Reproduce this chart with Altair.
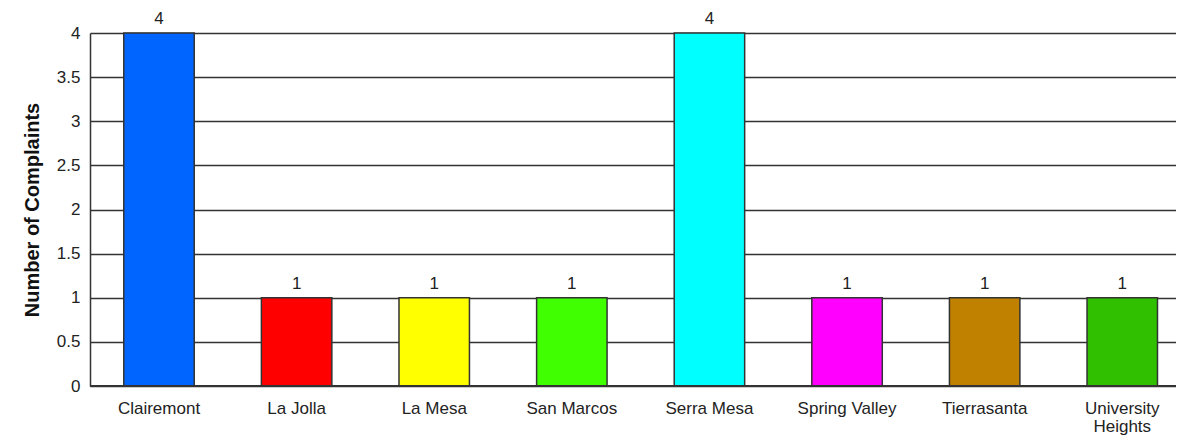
import altair as alt
import pandas as pd

categories = ["Clairemont", "La Jolla", "La Mesa", "San Marcos", "Serra Mesa",
              "Spring Valley", "Tierrasanta", "University Heights"]
complaints = [4, 1, 1, 1, 4, 1, 1, 1]
colors = ["#0064FF", "#FF0000", "#FFFF00", "#40FF00", "#00FFFF",
          "#FF00FF", "#C08000", "#30C000"]
y_ticks = [0, 0.5, 1, 1.5, 2, 2.5, 3, 3.5, 4]

df = pd.DataFrame({"area": categories, "count": complaints})

W = 1086
H = 353

x_enc = alt.X("area:N", sort=categories, title=None,
              scale=alt.Scale(paddingInner=0.488, paddingOuter=0.19, align=0.646),
              axis=alt.Axis(labelAngle=0, ticks=False, domain=False, labelPadding=14,
                            labelFont="Liberation Sans", labelFontSize=17,
                            labelColor="#222", labelLimit=200, labelLineHeight=18,
                            labelExpr="datum.label == 'University Heights' ? ['University', 'Heights'] : datum.label"))
y_enc = alt.Y("count:Q", title="Number of Complaints",
              scale=alt.Scale(domain=[0, 4], nice=False),
              axis=alt.Axis(values=y_ticks, grid=True, gridColor="#333", gridWidth=1.5,
                            gridOpacity=1, domain=True, domainColor="#333", domainWidth=1.5,
                            ticks=False, labelPadding=10, labelFont="Liberation Sans",
                            labelFontSize=17, labelColor="#222",
                            labelExpr="format(datum.value, '~g')",
                            titleFont="Liberation Sans", titleFontSize=20,
                            titleFontWeight="bold", titleColor="#111", titlePadding=14))

bars = alt.Chart(df).mark_bar(stroke="#333", strokeWidth=1.5).encode(
    x=x_enc, y=y_enc,
    color=alt.Color("area:N", scale=alt.Scale(domain=categories, range=colors), legend=None),
)

text = alt.Chart(df).mark_text(baseline="alphabetic", dy=-9, font="Liberation Sans",
                               fontSize=17, color="#222").encode(
    x=alt.X("area:N", sort=categories),
    y=alt.Y("count:Q"),
    text=alt.Text("count:Q"),
)

baseline = alt.Chart(pd.DataFrame({"v": [0]})).mark_rule(color="#333", strokeWidth=2).encode(
    y="v:Q", x=alt.value(0), x2=alt.value(W)
)

chart = alt.layer(bars, baseline, text).properties(
    width=W, height=H,
    autosize=alt.AutoSizeParams(type="none"),
    padding={"left": 82, "top": 25, "right": 0, "bottom": 51},
).configure_view(stroke=None)

chart.save("out.html", embed_options={"renderer": "svg", "actions": False})
